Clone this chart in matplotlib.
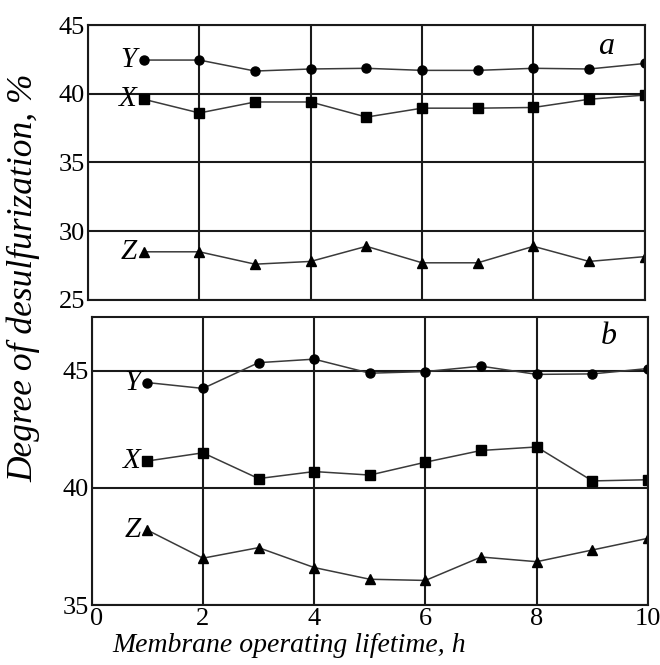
import matplotlib
matplotlib.use('Agg')
import matplotlib.pyplot as plt
from matplotlib.transforms import ScaledTranslation

plt.rcParams['font.family'] = ['Liberation Serif', 'DejaVu Serif']

# membrane operating lifetime, h
hours = [1, 2, 3, 4, 5, 6, 7, 8, 9, 10]

# panel a
a_Y = [42.45, 42.45, 41.65, 41.8, 41.85, 41.7, 41.7, 41.85, 41.8, 42.2]
a_X = [39.6, 38.6, 39.4, 39.4, 38.3, 38.95, 38.95, 39.0, 39.6, 39.9]
a_Z = [28.5, 28.5, 27.6, 27.8, 28.9, 27.7, 27.7, 28.9, 27.8, 28.15]

# panel b
b_Y = [44.5, 44.25, 45.35, 45.5, 44.9, 44.97, 45.2, 44.85, 44.87, 45.1]
b_X = [41.15, 41.5, 40.4, 40.7, 40.55, 41.1, 41.6, 41.75, 40.3, 40.35]
b_Z = [38.2, 37.0, 37.45, 36.6, 36.1, 36.05, 37.05, 36.85, 37.35, 37.85]

x_ticks = [0, 2, 4, 6, 8, 10]

fig = plt.figure(figsize=(6.6, 6.65), dpi=100)
ax_a = fig.add_axes([0.1333, 0.549, 0.8437, 0.4134])
ax_b = fig.add_axes([0.1389, 0.0902, 0.8429, 0.4331])


def draw_panel(ax, series, ylim, yticks, letter, letter_y):
    markers = {'Y': 'o', 'X': 's', 'Z': '^'}
    for name, vals in series:
        ax.plot(hours, vals, color='#3a3a3a', lw=1.1, marker=markers[name],
                markersize=6.5, markerfacecolor='black', markeredgecolor='black')
        ax.text(0.88, vals[0], name, style='italic', fontsize=21,
                ha='right', va='center')
    ax.set_xlim(0, 10)
    ax.set_ylim(*ylim)
    ax.set_xticks(x_ticks)
    ax.set_yticks(yticks)
    ax.grid(True, color='#1a1a1a', lw=1.5)
    ax.set_axisbelow(True)
    for sp in ax.spines.values():
        sp.set_linewidth(1.5)
        sp.set_color('#1a1a1a')
    ax.tick_params(length=0, labelsize=19, pad=2)
    ax.text(9.3, letter_y, letter, style='italic', fontsize=23,
            ha='center', va='center')


draw_panel(ax_a, [('Y', a_Y), ('X', a_X), ('Z', a_Z)], (25, 45),
           [25, 30, 35, 40, 45], 'a', 43.4)
ax_a.tick_params(labelbottom=False)

draw_panel(ax_b, [('Y', b_Y), ('X', b_X), ('Z', b_Z)], (35, 47.3),
           [35, 40, 45], 'b', 46.45)

# nudge the "0" label right so it clears "35", as in the original
fig.canvas.draw()
lab0 = ax_b.get_xticklabels()[0]
lab0.set_transform(lab0.get_transform() + ScaledTranslation(5 / 100, 0, fig.dpi_scale_trans))

fig.text(0.438, 0.03, 'Membrane operating lifetime, h', style='italic',
         fontsize=20, ha='center', va='center')
fig.text(0.036, 0.583, 'Degree of desulfurization, %', style='italic',
         fontsize=25.5, ha='center', va='center', rotation=90)

fig.savefig('out.png', dpi=100)
